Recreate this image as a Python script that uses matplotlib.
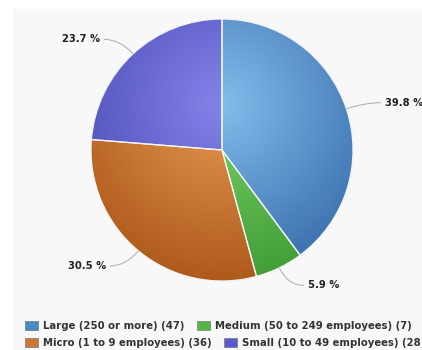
import numpy as np
import matplotlib.pyplot as plt
from matplotlib.colors import to_rgb
from matplotlib.patches import Rectangle, Patch, PathPatch
from matplotlib.path import Path

# firm size breakdown
labels = ['Large (250 or more)', 'Medium (50 to 249 employees)',
          'Micro (1 to 9 employees)', 'Small (10 to 49 employees)']
counts = [47, 7, 36, 28]
# light (highlight) and dark (rim) shade for each slice
light = ['#82bdec', '#7ad168', '#e99a52', '#8383e8']
dark = ['#3569a8', '#3d9a33', '#a95517', '#4646b2']
legend_col = ['#4a88c8', '#55b648', '#cf7634', '#5a5ad0']

W, H = 422, 350
fig = plt.figure(figsize=(W / 100, H / 100), dpi=100)
fig.patch.set_facecolor('white')
ax = fig.add_axes([0, 0, 1, 1])

# light grey chart panel
ax.add_patch(Rectangle((13, 0), W - 13, H - 9, facecolor='#f8f8f8',
                       edgecolor='none', zorder=0))

cx, cy, R = 222, 200, 131
wedges, _ = ax.pie(counts, colors=dark, startangle=90, counterclock=False,
                   center=(cx, cy), radius=R, frame=True,
                   wedgeprops=dict(linewidth=0))
for w in wedges:
    w.set_zorder(1)

# shading: highlight sits a little above the pie centre
hx, hy = cx, cy + 0.35 * R
n = 300
xs = np.linspace(cx - R, cx + R, n)
ys = np.linspace(cy - R, cy + R, n)
X, Y = np.meshgrid(xs, ys)
t = np.clip(np.hypot(X - hx, Y - hy) / (1.45 * R), 0, 1)[..., None]
for w, lc, dc in zip(wedges, light, dark):
    c0 = np.array(to_rgb(lc))
    c1 = np.array(to_rgb(dc))
    img = c0 * (1 - t) + c1 * t
    im = ax.imshow(img, extent=[cx - R, cx + R, cy - R, cy + R],
                   origin='lower', interpolation='bilinear', zorder=2)
    im.set_clip_path(w)

# white separators
seps, _ = ax.pie(counts, startangle=90, counterclock=False,
                 center=(cx, cy), radius=R, frame=True,
                 wedgeprops=dict(facecolor='none', edgecolor='#f4f4f4',
                                 linewidth=0.9))
for s in seps:
    s.set_zorder(3)

ax.set_xlim(0, W)
ax.set_ylim(0, H)
ax.set_aspect('auto')
ax.axis('off')

# percentage labels with curved link lines
total = sum(counts)
theta1 = 90.0
for v in counts:
    pct = v / total * 100
    mid = np.deg2rad(theta1 - pct * 3.6 / 2)
    theta1 -= pct * 3.6
    ux, uy = np.cos(mid), np.sin(mid)
    p0 = (cx + R * ux, cy + R * uy)
    pe = (cx + 1.15 * R * ux, cy + 1.15 * R * uy)
    side = 1 if ux >= 0 else -1
    p1 = (pe[0] + side * 16, pe[1])
    path = Path([p0, pe, p1], [Path.MOVETO, Path.CURVE3, Path.CURVE3])
    ax.add_patch(PathPatch(path, facecolor='none', edgecolor='#b4b4b4',
                           linewidth=0.8, zorder=4))
    ax.text(p1[0] + side * 4, p1[1], f'{pct:.1f} %', fontsize=7.2,
            fontweight='bold', color='#222222',
            ha='left' if side > 0 else 'right', va='center', zorder=5)

# legend laid out as two rows
handles = [Patch(facecolor=c, edgecolor='#666666', linewidth=0.4)
           for c in legend_col]
names = [f'{l} ({c})' for l, c in zip(labels, counts)]
for row, y in enumerate([24 / H, 7 / H]):
    idx = [row * 2, row * 2 + 1]
    leg = fig.legend([handles[i] for i in idx], [names[i] for i in idx],
                     loc='center left', bbox_to_anchor=(25 / W, y), ncol=2,
                     frameon=False, handlelength=1.3, handleheight=0.9,
                     handletextpad=0.5, columnspacing=1.2, borderaxespad=0,
                     borderpad=0,
                     prop=dict(size=7.3, weight='bold'))
    for txt in leg.get_texts():
        txt.set_color('#333333')

fig.savefig('out.png', dpi=100, facecolor='white')
